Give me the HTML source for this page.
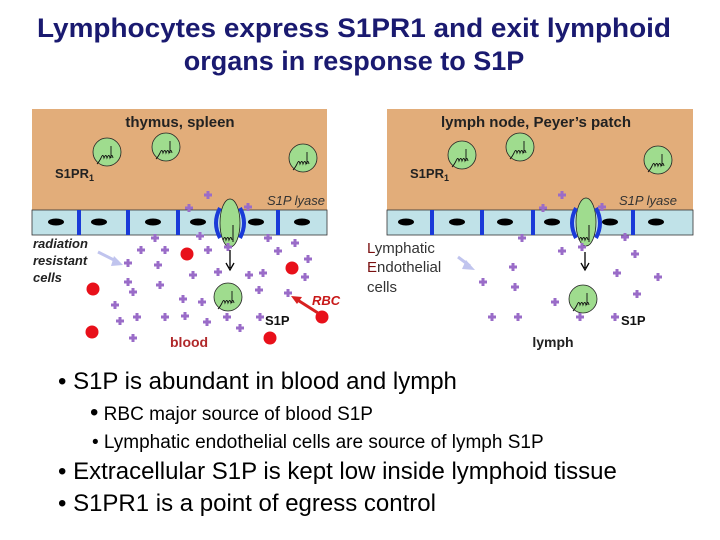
<!DOCTYPE html>
<html><head><meta charset="utf-8"><style>
body{margin:0;background:#fff;}
svg{display:block;font-family:"Liberation Sans",Arial,sans-serif;}
</style></head><body>
<svg width="720" height="540" viewBox="0 0 720 540" xmlns="http://www.w3.org/2000/svg">
<defs>
<g id="p"><path d="M-4,0H4M0,-4V4" stroke="#9a6cc8" stroke-width="3"/></g>
<g id="c"><circle r="14" fill="#9fdc8e" stroke="#222" stroke-width="0.8"/><path d="M-6,6 q2,-5 3,0 q2,-5 3,0 q2,-5 3,0 q2,-5 3,0 M4,6 V-6 M-6,6 q-2,4 -4,6" fill="none" stroke="#111" stroke-width="0.9"/></g>
</defs>
<text x="354" y="37" font-size="27" font-weight="bold" fill="#1a1a70" text-anchor="middle" textLength="634" lengthAdjust="spacingAndGlyphs">Lymphocytes express S1PR1 and exit lymphoid</text>
<text x="354" y="70" font-size="27" font-weight="bold" fill="#1a1a70" text-anchor="middle">organs in response to S1P</text>

<!-- left panel -->
<rect x="32" y="109" width="295" height="101" fill="#e2ad7a"/>
<rect x="32" y="210" width="295" height="25" fill="#c0e2e8" stroke="#333" stroke-width="0.8"/>
<g fill="#1a3ad8"><rect x="77" y="210" width="4" height="25"/><rect x="126" y="210" width="4" height="25"/><rect x="176" y="210" width="4" height="25"/><rect x="276" y="210" width="4" height="25"/></g>
<g fill="#000"><ellipse cx="56" cy="222" rx="8" ry="3.5"/><ellipse cx="99" cy="222" rx="8" ry="3.5"/><ellipse cx="153" cy="222" rx="8" ry="3.5"/><ellipse cx="198" cy="222" rx="8" ry="3.5"/><ellipse cx="256" cy="222" rx="8" ry="3.5"/><ellipse cx="302" cy="222" rx="8" ry="3.5"/></g>
<text x="180" y="127" font-size="15" font-weight="bold" fill="#222" text-anchor="middle">thymus, spleen</text>
<text x="55" y="178" font-size="13" font-weight="bold" fill="#222">S1PR<tspan font-size="9" dy="3">1</tspan></text>
<text x="325" y="205" font-size="13" font-style="italic" fill="#333" text-anchor="end">S1P lyase</text>
<use href="#c" x="107" y="152"/><use href="#c" x="166" y="147"/><use href="#c" x="303" y="158"/>
<ellipse cx="230" cy="223" rx="10" ry="24" fill="#9fdc8e" stroke="#222" stroke-width="0.8"/>
<path d="M220,208 q-8,15 0,30 M240,208 q8,15 0,30" fill="none" stroke="#1a3ad8" stroke-width="4"/>
<path d="M223,240 q2,-5 3,0 q2,-5 3,0 q2,-5 3,0 M233,242 V225" fill="none" stroke="#111"/>
<path d="M230,250 V268 M226,263 L230,270 L234,263" fill="none" stroke="#000" stroke-width="1.3"/>
<use href="#c" x="228" y="297"/>
<g font-size="13" font-weight="bold" font-style="italic" fill="#222"><text x="33" y="248">radiation</text><text x="33" y="265">resistant</text><text x="33" y="282">cells</text></g>
<path d="M98,252 L118,262" stroke="#c0c4ee" stroke-width="3"/><path d="M114,256 L123,265 L111,266Z" fill="#c0c4ee"/>
<g fill="#e8101a"><circle cx="187" cy="254" r="6.5"/><circle cx="292" cy="268" r="6.5"/><circle cx="93" cy="289" r="6.5"/><circle cx="322" cy="317" r="6.5"/><circle cx="92" cy="332" r="6.5"/><circle cx="270" cy="338" r="6.5"/></g>
<path d="M318,313 L296,299" stroke="#d82020" stroke-width="3"/><path d="M291,296 L302,297 L297,304Z" fill="#d82020"/>
<text x="312" y="305" font-size="13" font-weight="bold" font-style="italic" fill="#c81818">RBC</text>
<text x="265" y="325" font-size="13" font-weight="bold" fill="#111">S1P</text>
<text x="170" y="347" font-size="14" font-weight="bold" fill="#b0282a">blood</text>
<g>
<use href="#p" x="208" y="195"/><use href="#p" x="189" y="208"/><use href="#p" x="248" y="207"/><use href="#p" x="155" y="238"/><use href="#p" x="200" y="236"/><use href="#p" x="141" y="250"/><use href="#p" x="165" y="250"/><use href="#p" x="208" y="250"/><use href="#p" x="228" y="247"/><use href="#p" x="268" y="238"/><use href="#p" x="295" y="243"/><use href="#p" x="278" y="251"/><use href="#p" x="128" y="263"/><use href="#p" x="158" y="265"/><use href="#p" x="193" y="275"/><use href="#p" x="218" y="272"/><use href="#p" x="249" y="275"/><use href="#p" x="263" y="273"/><use href="#p" x="308" y="259"/><use href="#p" x="305" y="277"/><use href="#p" x="128" y="282"/><use href="#p" x="133" y="292"/><use href="#p" x="160" y="285"/><use href="#p" x="259" y="290"/><use href="#p" x="288" y="293"/><use href="#p" x="183" y="299"/><use href="#p" x="202" y="302"/><use href="#p" x="115" y="305"/><use href="#p" x="137" y="317"/><use href="#p" x="120" y="321"/><use href="#p" x="165" y="317"/><use href="#p" x="185" y="316"/><use href="#p" x="207" y="322"/><use href="#p" x="227" y="317"/><use href="#p" x="240" y="328"/><use href="#p" x="260" y="317"/><use href="#p" x="133" y="338"/>
</g>

<!-- right panel -->
<rect x="387" y="109" width="306" height="101" fill="#e2ad7a"/>
<rect x="387" y="210" width="306" height="25" fill="#c0e2e8" stroke="#333" stroke-width="0.8"/>
<g fill="#1a3ad8"><rect x="430" y="210" width="4" height="25"/><rect x="480" y="210" width="4" height="25"/><rect x="531" y="210" width="4" height="25"/><rect x="631" y="210" width="4" height="25"/></g>
<g fill="#000"><ellipse cx="406" cy="222" rx="8" ry="3.5"/><ellipse cx="457" cy="222" rx="8" ry="3.5"/><ellipse cx="505" cy="222" rx="8" ry="3.5"/><ellipse cx="552" cy="222" rx="8" ry="3.5"/><ellipse cx="610" cy="222" rx="8" ry="3.5"/><ellipse cx="656" cy="222" rx="8" ry="3.5"/></g>
<rect x="360" y="236" width="96" height="60" fill="#fff"/>
<text x="536" y="127" font-size="15" font-weight="bold" fill="#222" text-anchor="middle">lymph node, Peyer’s patch</text>
<text x="410" y="178" font-size="13" font-weight="bold" fill="#222">S1PR<tspan font-size="9" dy="3">1</tspan></text>
<text x="677" y="205" font-size="13" font-style="italic" fill="#333" text-anchor="end">S1P lyase</text>
<use href="#c" x="462" y="155"/><use href="#c" x="520" y="147"/><use href="#c" x="658" y="160"/>
<ellipse cx="586" cy="222" rx="10" ry="24" fill="#9fdc8e" stroke="#222" stroke-width="0.8"/>
<path d="M576,208 q-8,15 0,30 M596,208 q8,15 0,30" fill="none" stroke="#1a3ad8" stroke-width="4"/>
<path d="M579,240 q2,-5 3,0 q2,-5 3,0 q2,-5 3,0 M589,242 V225" fill="none" stroke="#111"/>
<path d="M585,252 V268 M581,263 L585,270 L589,263" fill="none" stroke="#000" stroke-width="1.3"/>
<use href="#c" x="583" y="299"/>
<g font-size="15" fill="#333"><text x="367" y="253"><tspan fill="#7a1010">L</tspan>ymphatic</text><text x="367" y="272"><tspan fill="#7a1010">E</tspan>ndothelial</text><text x="367" y="292">cells</text></g>
<path d="M458,257 L470,266" stroke="#c0c4ee" stroke-width="3"/><path d="M466,260 L475,270 L462,269Z" fill="#c0c4ee"/>
<text x="621" y="325" font-size="13" font-weight="bold" fill="#111">S1P</text>
<text x="553" y="347" font-size="14" font-weight="bold" fill="#222" text-anchor="middle">lymph</text>
<g>
<use href="#p" x="562" y="195"/><use href="#p" x="543" y="208"/><use href="#p" x="602" y="207"/><use href="#p" x="522" y="238"/><use href="#p" x="562" y="251"/><use href="#p" x="625" y="237"/><use href="#p" x="635" y="254"/><use href="#p" x="513" y="267"/><use href="#p" x="483" y="282"/><use href="#p" x="515" y="287"/><use href="#p" x="617" y="273"/><use href="#p" x="658" y="277"/><use href="#p" x="637" y="294"/><use href="#p" x="555" y="302"/><use href="#p" x="492" y="317"/><use href="#p" x="518" y="317"/><use href="#p" x="580" y="317"/><use href="#p" x="615" y="317"/><use href="#p" x="582" y="247"/>
</g>

<!-- bullets -->
<g fill="#000">
<text x="58" y="389" font-size="24">• S1P is abundant in blood and lymph</text>
<text x="90" y="420" font-size="19"><tspan font-size="24">•</tspan> RBC major source of blood S1P</text>
<text x="92" y="448" font-size="19">• Lymphatic endothelial cells are source of lymph S1P</text>
<text x="58" y="479" font-size="24">• Extracellular S1P is kept low inside lymphoid tissue</text>
<text x="58" y="511" font-size="24">• S1PR1 is a point of egress control</text>
</g>
</svg>
</body></html>
